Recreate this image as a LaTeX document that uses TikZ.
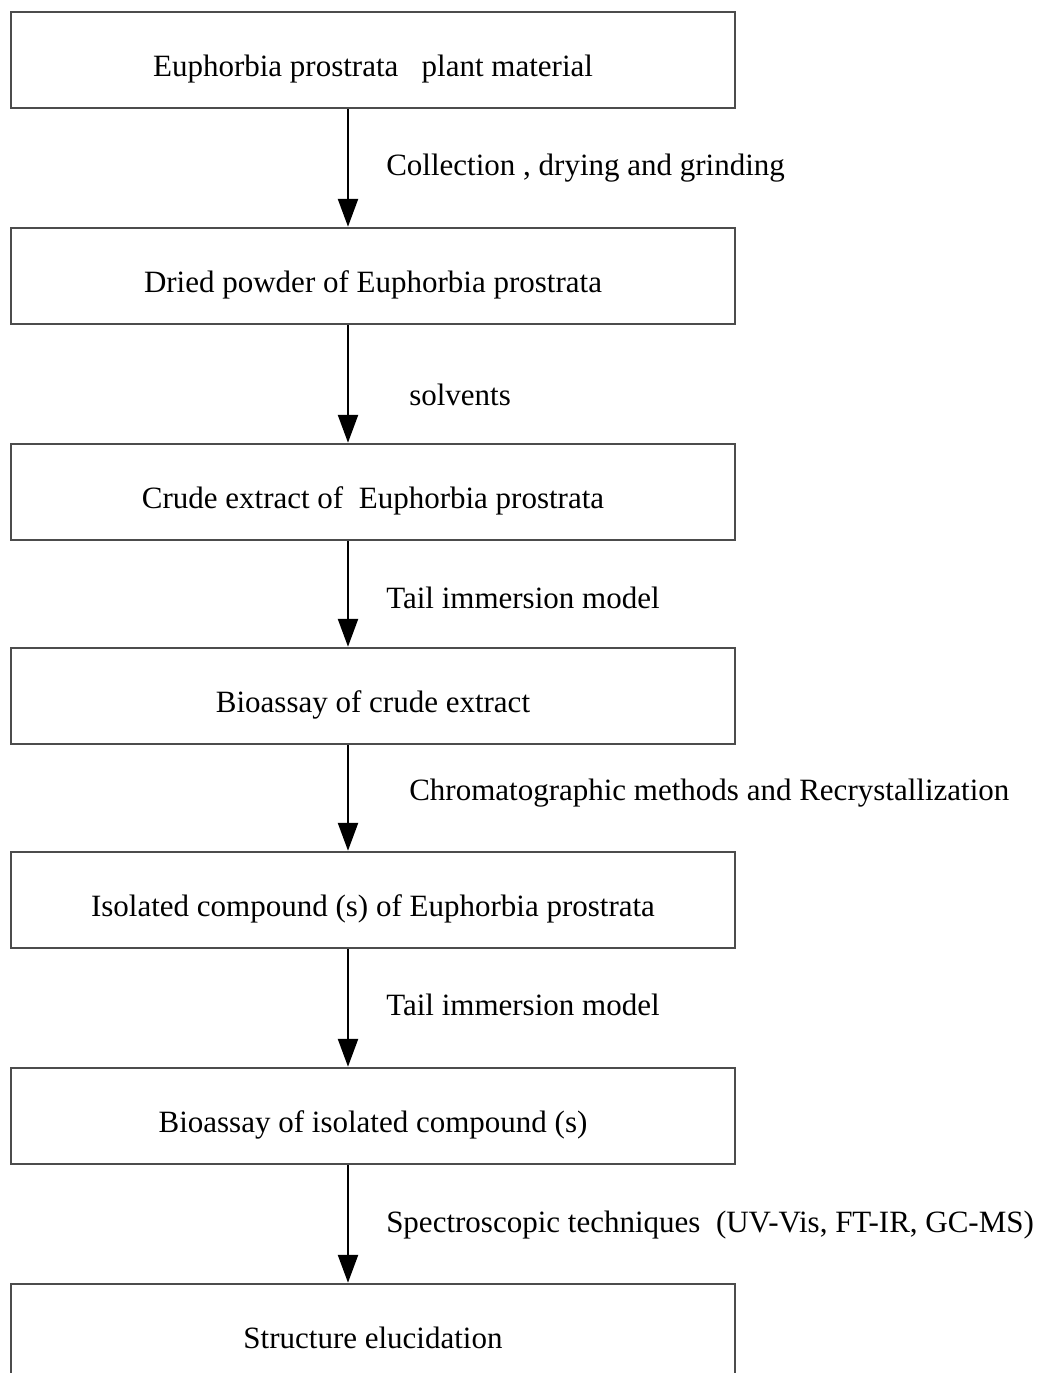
\documentclass[tikz,border=0pt]{standalone}
\usepackage{fontspec}
\setmainfont{Liberation Serif}
\usetikzlibrary{arrows.meta}
\begin{document}
\begin{tikzpicture}[x=1pt,y=-1pt,
  stepbox/.style={draw=black!70,line width=2.5pt,minimum width=724pt,minimum height=96pt,
    inner sep=0pt,text height=32pt,text depth=0pt,font=\fontsize{31}{31}\selectfont},
  arr/.style={line width=2.5pt,-{Triangle[width=20pt,length=28pt]}},
  lbl/.style={anchor=west,inner sep=0pt,text height=21pt,text depth=0pt,xshift=37pt,
    font=\fontsize{31}{31}\selectfont}]
\useasboundingbox (0,0) rectangle (1056,1373);
\clip (0,0) rectangle (1056,1373);
% Etapes du protocole
\node[stepbox] (plant) at (373,60) {Euphorbia prostrata\ \ \ plant material};
\node[stepbox] (powder) at (373,276) {Dried powder of Euphorbia prostrata};
\node[stepbox] (crude) at (373,492) {Crude extract of\ \ Euphorbia prostrata};
\node[stepbox] (bioA) at (373,696) {Bioassay of crude extract};
\node[stepbox] (isol) at (373,900) {Isolated compound (s) of Euphorbia prostrata};
\node[stepbox] (bioB) at (373,1116) {Bioassay of isolated compound (s)};
\node[stepbox] (struct) at (373,1332) {Structure elucidation};
% Fleches et operations
\draw[arr] ([xshift=-25pt]plant.south) -- ([xshift=-25pt]powder.north)
  node[lbl,midway,yshift=3pt] {Collection , drying and grinding};
\draw[arr] ([xshift=-25pt]powder.south) -- ([xshift=-25pt]crude.north)
  node[lbl,midway,xshift=23pt,yshift=-11pt] {solvents};
\draw[arr] ([xshift=-25pt]crude.south) -- ([xshift=-25pt]bioA.north)
  node[lbl,midway,yshift=-4pt] {Tail immersion model};
\draw[arr] ([xshift=-25pt]bioA.south) -- ([xshift=-25pt]isol.north)
  node[lbl,midway,xshift=23pt,yshift=8pt] {Chromatographic methods and Recrystallization};
\draw[arr] ([xshift=-25pt]isol.south) -- ([xshift=-25pt]bioB.north)
  node[lbl,midway,yshift=3pt] {Tail immersion model};
\draw[arr] ([xshift=-25pt]bioB.south) -- ([xshift=-25pt]struct.north)
  node[lbl,midway,yshift=2pt] {Spectroscopic techniques\ \ (UV-Vis, FT-IR, GC-MS)};
\end{tikzpicture}
\end{document}
